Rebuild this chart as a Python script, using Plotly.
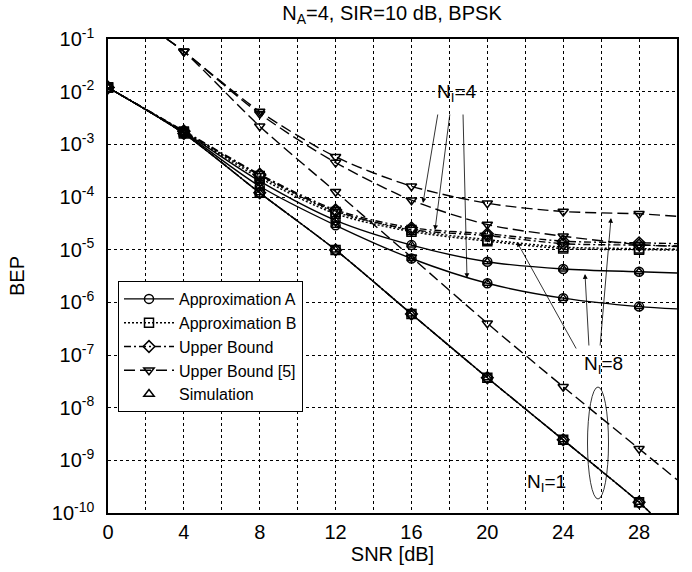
import plotly.graph_objects as go

# ---------------- data ----------------
snr = [0, 4, 8, 12, 16, 20, 24, 28]
snr_end = 30            # right frame, where the curves leave the plot
snr_ub5 = [4, 8, 12, 16, 20, 24, 28]
ub5_entry_snr = 3.1     # where the [5] curves enter at the top edge
ub5_entry_val = 1e-1
n1_exit_snr = 28.6      # where the N_I=1 curve leaves at the bottom edge
n1_exit_val = 1e-10

# Approximation A
apxA_1 = [1.2e-2, 1.6e-3, 1.2e-4, 9.9e-6, 6.0e-7, 3.7e-8, 2.45e-9, 1.6e-10]
apxA_4 = [1.2e-2, 1.65e-3, 1.6e-4, 2.9e-5, 6.8e-6, 2.3e-6, 1.2e-6, 8.3e-7]
apxA_8 = [1.2e-2, 1.7e-3, 2.0e-4, 3.6e-5, 1.22e-5, 5.9e-6, 4.3e-6, 3.8e-6]
apxA_4_end = 7.5e-7
apxA_8_end = 3.6e-6

# Approximation B
apxB_1 = [1.2e-2, 1.6e-3, 1.2e-4, 9.9e-6, 6.0e-7, 3.7e-8, 2.45e-9, 1.6e-10]
apxB_4 = [1.2e-2, 1.7e-3, 2.3e-4, 4.8e-5, 2.2e-5, 1.45e-5, 1.05e-5, 1.0e-5]
apxB_8 = [1.2e-2, 1.75e-3, 2.5e-4, 5.2e-5, 2.35e-5, 1.55e-5, 1.12e-5, 1.05e-5]
apxB_4_end = 9.8e-6
apxB_8_end = 1.03e-5

# Upper Bound
ub_1 = [1.2e-2, 1.6e-3, 1.2e-4, 9.9e-6, 6.0e-7, 3.7e-8, 2.45e-9, 1.6e-10]
ub_4 = [1.2e-2, 1.75e-3, 2.6e-4, 5.4e-5, 2.4e-5, 1.85e-5, 1.3e-5, 1.22e-5]
ub_8 = [1.2e-2, 1.8e-3, 2.7e-4, 5.7e-5, 2.6e-5, 2.0e-5, 1.45e-5, 1.35e-5]
ub_4_end = 1.18e-5
ub_8_end = 1.3e-5

# Upper Bound [5]
ub5_1 = [5.8e-2, 2.2e-3, 1.26e-4, 7.2e-6, 4.0e-7, 2.5e-8, 1.66e-9]
ub5_4 = [5.8e-2, 3.8e-3, 4.5e-4, 8.7e-5, 3.0e-5, 1.8e-5, 1.25e-5]
ub5_8 = [5.8e-2, 4.2e-3, 5.8e-4, 1.6e-4, 7.6e-5, 5.3e-5, 4.8e-5]
ub5_1_end = 4.3e-10
ub5_4_end = 1.15e-5
ub5_8_end = 4.3e-5

# Simulation
sim_1 = [1.2e-2, 1.6e-3, 1.2e-4, 9.9e-6, 6.0e-7, 3.7e-8, 2.45e-9, 1.6e-10]
sim_4 = [1.2e-2, 1.65e-3, 1.6e-4, 2.9e-5, 6.8e-6, 2.3e-6, 1.2e-6, 8.3e-7]
sim_8 = [1.2e-2, 1.7e-3, 2.0e-4, 3.6e-5, 1.22e-5, 5.9e-6, 4.3e-6, 3.8e-6]

y_tickvals = [1e-10, 1e-9, 1e-8, 1e-7, 1e-6, 1e-5, 1e-4, 1e-3, 1e-2, 1e-1]
y_ticktext = ["10<sup>-10</sup>", "10<sup>-9</sup>", "10<sup>-8</sup>", "10<sup>-7</sup>",
              "10<sup>-6</sup>", "10<sup>-5</sup>", "10<sup>-4</sup>", "10<sup>-3</sup>",
              "10<sup>-2</sup>", "10<sup>-1</sup>"]
x_tickvals = list(range(0, 31, 2))
x_ticktext = [str(v) if v % 4 == 0 and v <= 28 else "" for v in x_tickvals]

# ---------------- styling ----------------
FONT = "Liberation Sans, Arial, Helvetica, sans-serif"
BLACK = "black"
LW = 1.4
DASH_UB5 = "11px,5px"
DASH_UB = "7px,3px,2px,3px"
DASH_B = "2px,2px"
MS = 9
MLW = 1.5

fig = go.Figure()


def add_curve(xs, ys, dash, symbol, end_x=None, end_y=None, start=None):
    lx = list(xs)
    ly = list(ys)
    if start is not None:
        lx = [start[0]] + lx
        ly = [start[1]] + ly
    if end_x is not None:
        lx = lx + [end_x]
        ly = ly + [end_y]
    fig.add_trace(go.Scatter(x=lx, y=ly, mode="lines", showlegend=False,
                             line=dict(color=BLACK, width=LW, dash=dash, shape="spline", smoothing=0.8),
                             hoverinfo="skip"))
    fig.add_trace(go.Scatter(x=xs, y=ys, mode="markers", showlegend=False,
                             marker=dict(symbol=symbol, size=MS, color=BLACK,
                                         line=dict(color=BLACK, width=MLW))))


# Upper bound [5]
add_curve(snr_ub5, ub5_1, DASH_UB5, "triangle-down-open", snr_end, ub5_1_end, (ub5_entry_snr, ub5_entry_val))
add_curve(snr_ub5, ub5_4, DASH_UB5, "triangle-down-open", snr_end, ub5_4_end, (ub5_entry_snr, ub5_entry_val))
add_curve(snr_ub5, ub5_8, DASH_UB5, "triangle-down-open", snr_end, ub5_8_end, (ub5_entry_snr, ub5_entry_val))
# Upper bound
add_curve(snr, ub_1, DASH_UB, "diamond-open", n1_exit_snr, n1_exit_val)
add_curve(snr, ub_4, DASH_UB, "diamond-open", snr_end, ub_4_end)
add_curve(snr, ub_8, DASH_UB, "diamond-open", snr_end, ub_8_end)
# Approximation B
add_curve(snr, apxB_1, DASH_B, "square-open", n1_exit_snr, n1_exit_val)
add_curve(snr, apxB_4, DASH_B, "square-open", snr_end, apxB_4_end)
add_curve(snr, apxB_8, DASH_B, "square-open", snr_end, apxB_8_end)
# Approximation A
add_curve(snr, apxA_1, "solid", "circle-open", n1_exit_snr, n1_exit_val)
add_curve(snr, apxA_4, "solid", "circle-open", snr_end, apxA_4_end)
add_curve(snr, apxA_8, "solid", "circle-open", snr_end, apxA_8_end)
# Simulation
for s in (sim_1, sim_4, sim_8):
    fig.add_trace(go.Scatter(x=snr, y=s, mode="markers", showlegend=False,
                             marker=dict(symbol="triangle-up-open", size=MS - 1, color=BLACK,
                                         line=dict(color=BLACK, width=MLW))))

# legend-only entries
leg = [
    ("Approximation A", "lines+markers", "solid", "circle-open"),
    ("Approximation B", "lines+markers", DASH_B, "square-open"),
    ("Upper Bound", "lines+markers", DASH_UB, "diamond-open"),
    ("Upper Bound [5]", "lines+markers", DASH_UB5, "triangle-down-open"),
    ("Simulation", "markers", "solid", "triangle-up-open"),
]
for name, mode, dash, sym in leg:
    fig.add_trace(go.Scatter(x=[None], y=[None], mode=mode, name=name,
                             line=dict(color=BLACK, width=LW, dash=dash),
                             marker=dict(symbol=sym, size=MS, color=BLACK,
                                         line=dict(color=BLACK, width=MLW))))

# ---------------- layout ----------------
W, H = 692, 572
L, R, T, B = 108, 677, 39, 513   # plot-area edges in pixels


def px(x):
    return (x - L) / (R - L)


def py(y):
    return (B - y) / (B - T)


annotations = [
    dict(text="N<sub>I</sub>=4", x=px(457), y=py(93), xref="paper", yref="paper",
         xanchor="center", yanchor="middle",
         showarrow=False, font=dict(size=19, family=FONT, color=BLACK)),
    dict(text="N<sub>I</sub>=8", x=px(603), y=py(365), xref="paper", yref="paper",
         xanchor="center", yanchor="middle",
         showarrow=False, font=dict(size=19, family=FONT, color=BLACK)),
    dict(text="N<sub>I</sub>=1", x=px(546), y=py(483), xref="paper", yref="paper",
         xanchor="center", yanchor="middle",
         showarrow=False, font=dict(size=19, family=FONT, color=BLACK)),
]
arrows = [
    ((438, 113), (423, 203)),
    ((450, 113), (435, 230)),
    ((463, 113), (467, 278)),
    ((577, 350), (517, 242)),
    ((589, 347), (585, 274)),
    ((600, 347), (611, 218)),
]
for (tx, ty), (hx, hy) in arrows:
    annotations.append(dict(text="", x=px(hx), y=py(hy), xref="paper", yref="paper",
                            ax=tx - hx, ay=ty - hy, showarrow=True, arrowhead=2,
                            arrowsize=1.2, arrowwidth=0.8, arrowcolor=BLACK))

fig.update_layout(
    width=W, height=H,
    margin=dict(l=L, r=W - R, t=T, b=H - B, pad=0),
    paper_bgcolor="white", plot_bgcolor="white",
    font=dict(family=FONT, size=16, color=BLACK),
    title=dict(text="N<sub>A</sub>=4, SIR=10 dB, BPSK", x=392 / W, xanchor="center",
               y=1 - 13 / H, yanchor="middle", font=dict(size=20)),
    xaxis=dict(range=[0, 30], tickvals=x_tickvals, ticktext=x_ticktext,
               showgrid=True, gridcolor=BLACK, griddash="dot", gridwidth=0.8,
               showline=True, linecolor=BLACK, linewidth=1.5, mirror=True,
               ticks="", zeroline=False, tickfont=dict(size=20),
               title=dict(text="SNR [dB]", font=dict(size=20), standoff=0)),
    yaxis=dict(type="log", range=[-10, -1], tickvals=y_tickvals, ticktext=y_ticktext,
               showgrid=True, gridcolor=BLACK, griddash="dot", gridwidth=0.8,
               showline=True, linecolor=BLACK, linewidth=1.5, mirror=True,
               ticks="", zeroline=False, tickfont=dict(size=20), ticklabelstandoff=8,
               title=dict(text="BEP", font=dict(size=20), standoff=22)),
    legend=dict(x=px(118), y=py(281), xanchor="left", yanchor="top",
                bgcolor="white", bordercolor=BLACK, borderwidth=1,
                font=dict(size=16), itemwidth=50, tracegroupgap=0),
    annotations=annotations,
    shapes=[dict(type="circle", xref="paper", yref="paper",
                 x0=px(587.5), x1=px(608.5), y0=py(499), y1=py(387),
                 line=dict(color=BLACK, width=0.8))],
    showlegend=True,
)

# remove the default 8px page margin so the figure fills the window exactly
fig.write_html("out.html", config={"displayModeBar": False},
               post_script="document.body.style.margin='0px';")
